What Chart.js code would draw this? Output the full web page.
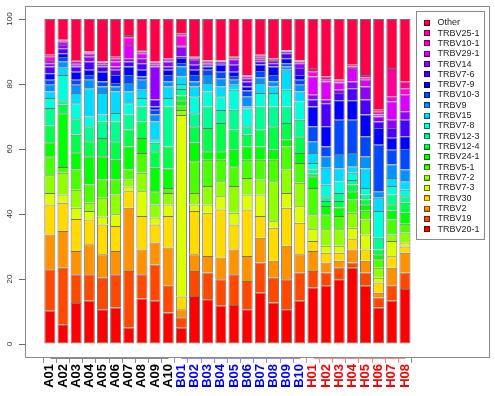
<!DOCTYPE html>
<html>
<head>
<meta charset="utf-8">
<script src="https://cdn.jsdelivr.net/npm/chart.js@4.4.1/dist/chart.umd.min.js"></script>
<style>
html, body { margin:0; padding:0; background:#ffffff; overflow:hidden; }
#wrap { position:relative; width:495px; height:396px; }
canvas { display:block; }
</style>
</head>
<body>
<div id="wrap"><canvas id="chart" width="495" height="396"></canvas></div>
<script>
// ---- categories / tick labels ----
const samples = ['A01','A02','A03','A04','A05','A06','A07','A08','A09','A10',
                 'B01','B02','B03','B04','B05','B06','B07','B08','B09','B10',
                 'H01','H02','H03','H04','H05','H06','H07','H08'];
const yTicks = [0, 20, 40, 60, 80, 100];

// ---- series values (percent of reads), bottom to top ----
const TRBV20_1 = [10.2, 6.1, 12.6, 13.3, 10.7, 11.2, 5.1, 14.0, 13.3, 9.7, 5.0, 14.8, 13.8, 11.8, 12.0, 10.7, 15.8, 12.8, 10.7, 13.3, 17.4, 17.9, 19.9, 23.5, 17.9, 11.2, 13.3, 16.9];
const TRBV19   = [12.8, 17.4, 8.9, 8.2, 9.7, 10.3, 17.4, 7.5, 11.2, 8.2, 3.2, 7.7, 8.2, 8.1, 9.5, 8.7, 9.3, 7.6, 9.2, 8.7, 5.1, 4.1, 3.6, 1.6, 4.1, 3.1, 4.6, 5.1];
const TRBV2    = [10.7, 11.3, 7.1, 9.2, 7.2, 7.1, 19.4, 7.6, 6.7, 11.8, 2.5, 5.1, 5.1, 6.7, 7.6, 7.7, 7.6, 5.2, 10.3, 5.6, 6.1, 3.1, 2.1, 4.0, 3.6, 1.5, 5.6, 6.1];
const TRBV30   = [9.2, 8.7, 9.9, 7.6, 9.2, 7.7, 5.1, 10.3, 5.6, 9.7, 3.9, 13.3, 13.3, 14.8, 7.7, 14.3, 6.7, 10.2, 11.7, 9.7, 3.1, 3.0, 2.5, 3.1, 3.5, 3.1, 3.5, 1.9];
const TRBV7_3  = [3.6, 2.5, 3.4, 2.6, 2.4, 3.6, 1.5, 7.6, 2.1, 3.5, 55.9, 2.0, 2.5, 4.1, 3.6, 4.6, 6.6, 2.0, 4.6, 5.1, 3.6, 2.1, 2.1, 3.6, 4.6, 1.5, 4.7, 1.2];
const TRBV7_2  = [5.4, 6.7, 5.6, 2.6, 5.8, 6.1, 2.1, 5.7, 4.0, 3.6, 1.5, 3.6, 5.7, 4.6, 8.2, 5.1, 4.6, 12.3, 7.2, 7.2, 4.6, 5.1, 5.1, 4.6, 4.6, 3.1, 2.0, 3.1];
const TRBV5_1  = [5.9, 1.8, 6.2, 5.6, 5.6, 4.6, 3.1, 6.1, 4.1, 1.5, 1.5, 9.7, 8.1, 6.6, 6.1, 5.6, 6.1, 6.6, 7.1, 6.1, 8.1, 4.6, 4.1, 4.1, 2.7, 2.6, 4.6, 2.7];
const TRBV24_1 = [4.3, 16.5, 5.3, 8.7, 7.2, 6.1, 7.1, 4.6, 7.2, 6.0, 1.5, 5.7, 2.6, 2.6, 5.1, 4.1, 4.1, 3.1, 2.1, 3.1, 3.6, 2.6, 2.6, 2.5, 2.0, 1.5, 2.7, 3.4];
const TRBV12_4 = [5.1, 2.6, 5.4, 4.6, 5.6, 5.7, 5.2, 5.1, 5.1, 6.8, 1.5, 5.1, 7.2, 8.7, 6.2, 3.6, 5.2, 7.2, 5.1, 5.1, 0.9, 1.5, 2.0, 2.1, 1.5, 1.5, 2.0, 3.1];
const TRBV12_3 = [5.4, 1.4, 5.1, 4.6, 5.1, 6.1, 4.6, 4.6, 2.6, 12.3, 2.0, 4.0, 6.6, 4.0, 6.1, 2.6, 7.1, 6.1, 5.1, 5.1, 1.2, 1.5, 2.5, 1.4, 1.5, 3.6, 3.0, 2.0];
const TRBV7_8  = [3.1, 7.8, 4.6, 3.0, 2.1, 2.6, 3.5, 2.6, 1.1, 2.6, 1.5, 5.2, 4.6, 4.2, 6.1, 5.5, 4.1, 4.1, 5.1, 5.6, 2.0, 3.5, 3.5, 2.2, 2.0, 8.2, 2.6, 2.0];
const TRBV15   = [2.0, 2.2, 3.1, 8.7, 6.6, 6.6, 3.6, 2.5, 5.5, 3.5, 2.3, 3.0, 2.6, 3.0, 1.6, 0.6, 3.1, 2.0, 6.2, 3.1, 3.1, 5.2, 4.0, 2.0, 6.0, 4.1, 2.5, 2.6];
const TRBV9    = [2.1, 2.0, 2.6, 2.6, 2.0, 1.5, 2.6, 3.1, 2.1, 1.6, 3.1, 1.6, 2.5, 2.6, 1.5, 3.1, 1.7, 1.6, 1.0, 2.1, 3.6, 3.6, 4.5, 4.1, 3.8, 2.0, 4.1, 3.6];
const TRBV10_3 = [1.5, 1.3, 1.5, 1.5, 1.6, 1.1, 2.5, 1.0, 1.5, 2.0, 1.1, 2.0, 1.6, 2.0, 1.2, 1.8, 2.0, 2.0, 1.0, 1.5, 4.6, 3.0, 10.5, 10.2, 6.1, 14.3, 4.6, 6.3];
const TRBV7_9  = [2.0, 1.2, 2.5, 1.6, 3.0, 2.5, 2.6, 2.1, 1.0, 1.6, 1.5, 1.6, 1.0, 2.1, 1.3, 1.2, 2.0, 2.6, 1.5, 1.5, 6.1, 6.2, 6.0, 6.0, 6.7, 5.2, 3.7, 3.9];
const TRBV7_6  = [2.1, 1.5, 1.6, 2.5, 1.6, 1.6, 1.5, 2.0, 2.1, 1.0, 0.5, 1.5, 0.5, 0.6, 2.1, 1.6, 1.0, 1.0, 1.6, 2.1, 2.1, 7.1, 2.2, 3.7, 4.6, 2.0, 3.0, 5.1];
const TRBV14   = [1.0, 1.0, 0.5, 1.5, 0.7, 1.0, 1.0, 1.5, 10.2, 1.5, 3.0, 1.5, 0.5, 0.4, 1.7, 1.0, 0.6, 0.7, 0.5, 1.5, 1.5, 1.1, 1.0, 2.1, 4.0, 1.5, 2.5, 2.6];
const TRBV29_1 = [1.0, 1.0, 0.6, 0.9, 0.5, 1.5, 4.1, 1.6, 0.7, 0.5, 0.5, 0.5, 0.6, 0.2, 0.4, 0.5, 0.6, 0.3, 0.2, 0.5, 5.6, 5.6, 2.3, 4.1, 2.1, 0.6, 5.6, 5.1];
const TRBV10_1 = [1.0, 0.4, 0.5, 0.4, 0.2, 1.0, 2.4, 0.5, 0.5, 0.3, 3.0, 0.3, 0.2, 0.1, 0.2, 0.3, 0.5, 0.3, 0.2, 0.3, 1.5, 0.5, 0.5, 0.5, 0.7, 0.9, 1.6, 2.0];
const TRBV25_1 = [0.6, 0.2, 0.4, 0.3, 0.1, 0.5, 0.7, 0.5, 0.3, 0.2, 0.6, 0.2, 0.2, 0.2, 0.2, 0.2, 0.3, 0.2, 0.1, 0.2, 1.1, 1.0, 0.5, 0.5, 0.8, 0.6, 8.7, 2.1];
const Other    = [11.0, 6.4, 12.6, 10.0, 13.1, 11.6, 4.9, 9.5, 13.1, 12.1, 4.4, 11.6, 12.6, 12.6, 11.6, 17.2, 11.0, 12.1, 9.5, 12.6, 15.1, 17.7, 18.5, 14.1, 17.2, 27.9, 15.1, 19.2];

const seriesNames  = ['TRBV20-1','TRBV19','TRBV2','TRBV30','TRBV7-3','TRBV7-2','TRBV5-1','TRBV24-1','TRBV12-4','TRBV12-3',
                      'TRBV7-8','TRBV15','TRBV9','TRBV10-3','TRBV7-9','TRBV7-6','TRBV14','TRBV29-1','TRBV10-1','TRBV25-1','Other'];
const seriesValues = [TRBV20_1, TRBV19, TRBV2, TRBV30, TRBV7_3, TRBV7_2, TRBV5_1, TRBV24_1, TRBV12_4, TRBV12_3,
                      TRBV7_8, TRBV15, TRBV9, TRBV10_3, TRBV7_9, TRBV7_6, TRBV14, TRBV29_1, TRBV10_1, TRBV25_1, Other];
// R rainbow(21)
const seriesColors = ['#FF0000','#FF4900','#FF9200','#FFDB00','#DBFF00','#92FF00','#49FF00','#00FF00','#00FF49','#00FF92',
                      '#00FFDB','#00DBFF','#0092FF','#0049FF','#0000FF','#4900FF','#9200FF','#DB00FF','#FF00DB','#FF0092','#FF0049'];

// ---- styling / geometry (R barplot: width 1, space 0.2) ----
const groupStyle = {
  A: { label: '#000000', tick: '#8a8a8a' },
  B: { label: '#0000FF', tick: '#8c8cff' },
  H: { label: '#FF0000', tick: '#ff8c8c' }
};
const grp = i => groupStyle[((samples[i] || 'A')[0])] || groupStyle.A;
const barPos = samples.map((s, i) => 0.7 + 1.2 * i);
const xLim = [-1.568, 40.768];
const yLim = [-4, 104];
const pxPerUnitX = 464 / (xLim[1] - xLim[0]);
const FONT = "'Liberation Sans', Arial, Helvetica, sans-serif";
const EDGE = 'rgba(0,0,0,0.55)';
const LEGEND_LEFT = 419.67;

function swatch(color) {
  const c = document.createElement('canvas');
  c.width = 6; c.height = 6;
  const g = c.getContext('2d');
  g.fillStyle = color; g.fillRect(0, 0, 6, 6);
  g.strokeStyle = EDGE; g.lineWidth = 1; g.strokeRect(0.5, 0.5, 5, 5);
  return c;
}

const datasets = seriesNames.map((name, k) => ({
  label: name,
  data: seriesValues[k].map((v, i) => ({ x: barPos[i], y: v })),
  backgroundColor: seriesColors[k],
  borderColor: EDGE,
  borderWidth: 1,
  borderSkipped: k === 0 ? false : 'start',
  pointStyle: swatch(seriesColors[k]),
  categoryPercentage: 1.0,
  barPercentage: 0.84
}));

const framePlugin = {
  id: 'rframe',
  afterDraw(chart) {
    const { ctx, scales: { x, y } } = chart;
    const px = v => Math.round(x.getPixelForValue(v)) + 0.5;
    const py = v => Math.round(y.getPixelForValue(v)) + 0.5;
    ctx.save();
    ctx.lineWidth = 1;
    ctx.strokeStyle = '#8a8a8a';
    const L = px(xLim[0]), R = px(xLim[1]), T = py(yLim[1]), B = py(yLim[0]);
    ctx.strokeRect(L, T, R - L, B - T);
    const lg = chart.legend;
    if (lg) {
      const lx = Math.round(lg.left - 4) + 0.5;
      const ly = Math.round(lg.top - 6) + 0.5;
      ctx.strokeRect(lx, ly, 68, 228);
    }
    ['A', 'B', 'H'].forEach(g => {
      const idx = samples.map((s, i) => s[0] === g ? i : -1).filter(i => i >= 0);
      ctx.strokeStyle = groupStyle[g].tick;
      ctx.beginPath();
      ctx.moveTo(px(barPos[idx[0]]), B + 1);
      ctx.lineTo(px(barPos[idx[idx.length - 1]]), B + 1);
      ctx.stroke();
    });
    ctx.restore();
  }
};

const chart = new Chart(document.getElementById('chart'), {
  type: 'bar',
  data: { datasets },
  plugins: [framePlugin],
  options: {
    responsive: false,
    animation: false,
    devicePixelRatio: 1,
    layout: { padding: { left: 0, right: 4, top: 16.87, bottom: 0 } },
    plugins: {
      tooltip: { enabled: false },
      legend: {
        position: 'right',
        align: 'start',
        reverse: true,
        labels: {
          usePointStyle: true,
          pointStyleWidth: 12,
          boxWidth: 12,
          boxHeight: 6,
          padding: 1.33,
          color: '#222222',
          font: { family: FONT, size: 9 }
        }
      }
    },
    scales: {
      x: {
        type: 'linear',
        stacked: true,
        bounds: 'data',
        offset: false,
        afterDataLimits: s => { s.min = xLim[0]; s.max = xLim[0] + s.width / pxPerUnitX; },
        afterBuildTicks: s => { s.ticks = barPos.map(p => ({ value: p })); },
        afterFit: s => { s.height = 39; },
        grid: {
          drawOnChartArea: false,
          drawTicks: true,
          tickLength: 6,
          tickColor: c => grp(c.index).tick,
          color: c => grp(c.index).tick
        },
        border: { display: false },
        ticks: {
          autoSkip: false,
          minRotation: 90,
          maxRotation: 90,
          padding: 1,
          callback: (v, i) => samples[i],
          color: c => grp(c.index).label,
          font: { family: FONT, size: 13, weight: 'bold' }
        }
      },
      y: {
        stacked: true,
        bounds: 'data',
        min: yLim[0],
        max: yLim[0] + 340.13 / 3.25,
        afterBuildTicks: s => { s.ticks = yTicks.map(v => ({ value: v })); },
        afterFit: s => { s.width = 25; },
        grid: { drawOnChartArea: false, drawTicks: true, tickLength: 6, tickColor: '#6a6a6a' },
        border: { display: false },
        ticks: {
          minRotation: 90,
          maxRotation: 90,
          crossAlign: 'center',
          padding: 2.8,
          color: '#333333',
          font: { family: FONT, size: 8 }
        }
      }
    }
  }
});

// place the legend column where the reference has it (depends on measured text width)
if (chart.legend) {
  chart.options.layout.padding.right = Math.max(0, 495 - LEGEND_LEFT - chart.legend.width);
  chart.update();
}
</script>
</body>
</html>
